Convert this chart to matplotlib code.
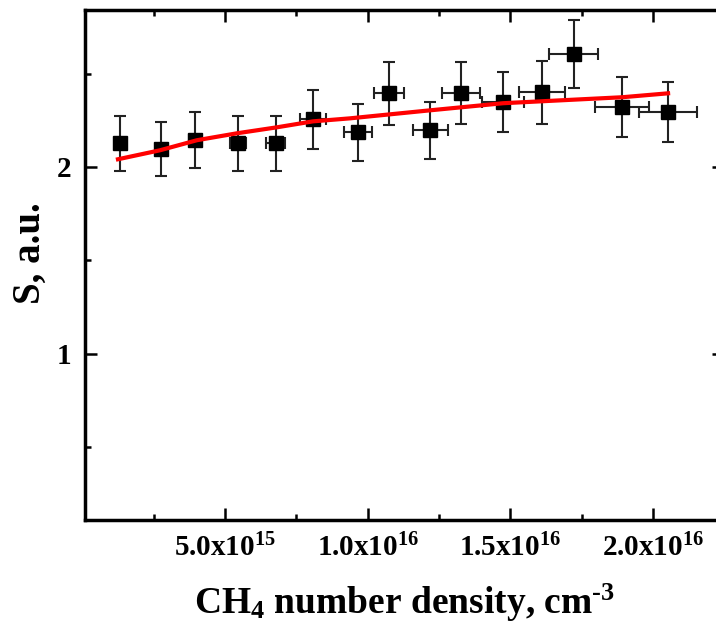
import numpy as np
import matplotlib
matplotlib.use("Agg")
import matplotlib.pyplot as plt
from matplotlib.ticker import MultipleLocator, FuncFormatter

plt.rcParams["font.family"] = ["Liberation Serif", "DejaVu Serif"]
plt.rcParams["font.weight"] = "bold"
plt.rcParams["axes.labelweight"] = "bold"
plt.rcParams["mathtext.fontset"] = "custom"
plt.rcParams["mathtext.rm"] = "Liberation Serif:bold"
plt.rcParams["mathtext.bf"] = "Liberation Serif:bold"
plt.rcParams["mathtext.it"] = "Liberation Serif:bold:italic"

# measured points (CH4 density in cm^-3, signal in a.u.)
density = np.array([1.31, 2.75, 3.95, 5.45, 6.78, 8.08, 9.66, 10.75,
                    12.20, 13.27, 14.75, 16.11, 17.22, 18.92, 20.53]) * 1e15
signal = np.array([2.127, 2.097, 2.145, 2.127, 2.127, 2.255, 2.186, 2.394,
                   2.196, 2.394, 2.346, 2.399, 2.603, 2.319, 2.293])
density_err = np.array([0.07, 0.14, 0.20, 0.28, 0.34, 0.45, 0.50, 0.54,
                        0.61, 0.66, 0.74, 0.82, 0.87, 0.95, 1.02]) * 1e15
signal_err = np.array([0.147, 0.144, 0.150, 0.147, 0.147, 0.158, 0.152, 0.168,
                       0.153, 0.166, 0.161, 0.168, 0.182, 0.160, 0.162])

# fitted curve
fit_x = np.array([1.25, 2.72, 4.02, 5.42, 6.82, 8.09, 9.38, 12.19,
                  14.75, 16.05, 18.92, 20.53]) * 1e15
fit_y = np.array([2.041, 2.089, 2.143, 2.180, 2.212, 2.244, 2.260, 2.303,
                  2.341, 2.351, 2.373, 2.394])


def sci_label(v, pos):
    if v == 0:
        return "0"
    e = int(np.floor(np.log10(v)))
    m = v / 10 ** e
    return f"{m:.1f}x10$^{{{e}}}$"


fig = plt.figure(figsize=(7.16, 6.25), dpi=100)
ax = fig.add_axes([85 / 716, 105 / 625, 639 / 716, 510 / 625])

ax.errorbar(density, signal, xerr=density_err, yerr=signal_err, fmt="s",
            color="black", ms=10, ecolor="#222222", elinewidth=1.5,
            capsize=4.5, capthick=1.5, zorder=2)
ax.plot(fit_x, fit_y, color="red", lw=3, zorder=3)

ax.set_xlim(0.095e15, 22.49e15)
ax.set_ylim(0.11, 2.84)

ax.xaxis.set_major_locator(MultipleLocator(5e15))
ax.xaxis.set_minor_locator(MultipleLocator(2.5e15))
ax.xaxis.set_major_formatter(FuncFormatter(sci_label))
ax.yaxis.set_major_locator(MultipleLocator(1))
ax.yaxis.set_minor_locator(MultipleLocator(0.5))

for s in ax.spines.values():
    s.set_linewidth(2.5)
ax.tick_params(which="both", direction="in", top=True, right=True, width=1.8)
ax.tick_params(which="major", length=8.5, labelsize=21, pad=10)
ax.tick_params(which="minor", length=4.5)

ax.set_xlabel(r"CH$_4$ number density, cm$^{\text{-}3}$", fontsize=27,
              fontweight="bold", labelpad=14)
ax.set_ylabel("S, a.u.", fontsize=28, fontweight="bold")
ax.yaxis.set_label_coords(-0.057, 0.523)

fig.savefig("out.png", dpi=100)
